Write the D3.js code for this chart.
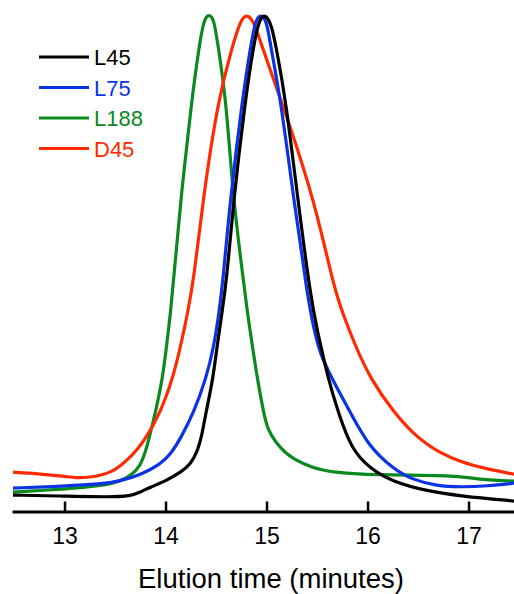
<!DOCTYPE html>
<html>
<head>
<meta charset="utf-8">
<script src="https://cdn.jsdelivr.net/npm/d3@7"></script>
<style>
  body { margin: 0; background: #fff; }
  svg { display: block; font-family: 'Liberation Sans', Arial, sans-serif; }
</style>
</head>
<body>
<svg width="514" height="594"></svg>
<script>
// elution time (min), normalised absorbance (% of peak)
const l45 = [
  [12.49, 3.4], [13.0, 3.2], [13.46, 3.0], [13.65, 3.2], [13.75, 4.0], [13.85, 5.0],
  [14.0, 6.2], [14.15, 8.0], [14.25, 9.6], [14.32, 12.4], [14.36, 15.4], [14.4, 20.0],
  [14.47, 26.7], [14.51, 33.3], [14.56, 40.1], [14.61, 47.5], [14.67, 62.0], [14.79, 82.8],
  [14.87, 93.5], [14.93, 99.2], [14.99, 100], [15.05, 97.8], [15.1, 92.8], [15.19, 82.8],
  [15.31, 62.7], [15.44, 42.7], [15.5, 36.7], [15.61, 26.7], [15.71, 20.0], [15.84, 12.6],
  [16.03, 8.6], [16.26, 6.0], [16.59, 4.2], [16.92, 3.2], [17.45, 2.2]
]
const l75 = [
  [12.49, 4.8], [13.0, 5.2], [13.36, 5.6], [13.55, 6.2], [13.75, 7.4], [13.95, 9.6],
  [14.05, 11.6], [14.15, 14.8], [14.28, 20.0], [14.4, 26.7], [14.48, 33.3], [14.53, 40.1],
  [14.57, 46.7], [14.64, 62.7], [14.76, 82.8], [14.84, 93.2], [14.89, 98.8], [14.94, 100],
  [15.0, 98.8], [15.04, 93.6], [15.14, 82.8], [15.27, 62.7], [15.41, 42.7], [15.47, 36.7],
  [15.53, 31.7], [15.65, 26.7], [15.83, 20.0], [16.01, 13.2], [16.26, 8.6], [16.43, 6.6],
  [16.69, 5.2], [16.92, 5.0], [17.19, 5.2], [17.45, 5.8]
]
const l188 = [
  [12.49, 4.0], [13.0, 4.6], [13.36, 5.2], [13.55, 6.2], [13.65, 7.2], [13.75, 9.2],
  [13.8, 12.0], [13.84, 15.0], [13.9, 20.0], [13.97, 26.7], [14.01, 33.3], [14.05, 40.1],
  [14.08, 46.7], [14.15, 62.7], [14.26, 82.8], [14.33, 93.2], [14.38, 99.0], [14.43, 100],
  [14.48, 99.0], [14.52, 93.6], [14.6, 82.8], [14.67, 62.7], [14.77, 46.7], [14.81, 40.1],
  [14.86, 33.3], [14.91, 26.7], [14.97, 20.0], [15.01, 16.6], [15.09, 14.0], [15.18, 12.0],
  [15.27, 10.6], [15.44, 9.0], [15.63, 8.0], [16.06, 7.4], [16.89, 7.4], [17.05, 6.6],
  [17.45, 6.2]
]
const d45 = [
  [12.49, 8.0], [12.66, 7.8], [12.76, 7.6], [13.0, 7.2], [13.11, 6.8], [13.26, 7.0],
  [13.36, 7.4], [13.46, 8.0], [13.55, 9.2], [13.65, 11.0], [13.72, 12.6], [13.8, 14.6],
  [13.95, 20.0], [14.07, 26.7], [14.15, 33.3], [14.22, 40.1], [14.28, 46.7], [14.37, 62.7],
  [14.52, 82.8], [14.66, 93.4], [14.74, 98.6], [14.8, 100], [14.87, 98.8], [14.96, 93.2],
  [15.14, 82.8], [15.21, 78.8], [15.47, 62.7], [15.65, 46.7], [15.71, 42.7], [15.75, 40.1],
  [15.88, 33.3], [16.03, 26.7], [16.26, 20.0], [16.46, 15.6], [16.59, 13.6], [16.69, 12.2],
  [16.92, 10.0], [17.19, 8.6], [17.45, 7.6]
]
const names = ['L45', 'L75', 'L188', 'D45']
const colors = ['#000000', '#0a32e6', '#0a8a1e', '#ff2a00']
const series = [l45, l75, l188, d45]
const xTicks = [13, 14, 15, 16, 17]

const svg = d3.select('svg')

const x = d3.scaleLinear().domain([12.48, 17.45]).range([12, 514])
const y = d3.scaleLinear().domain([0, 100]).range([512, 14])

const line = d3.line()
  .x((d) => x(d[0]))
  .y((d) => y(d[1]))
  .curve(d3.curveBasis)

// draw order: green behind, then red, blue, black on top
const order = [2, 3, 1, 0]
svg.append('g')
  .selectAll('path')
  .data(order)
  .enter()
  .append('path')
  .attr('d', (i) => line(series[i]))
  .attr('fill', 'none')
  .attr('stroke', (i) => colors[i])
  .attr('stroke-width', 3.2)
  .attr('stroke-linejoin', 'round')

// x axis, ticks pointing up
const axis = svg.append('g')
  .attr('transform', 'translate(0,511.5)')
  .call(
    d3.axisBottom(x)
      .tickValues(xTicks)
      .tickFormat(d3.format('d'))
      .tickSizeInner(-10)
      .tickSizeOuter(0)
      .tickPadding(16),
  )
axis.select('.domain').attr('stroke-width', 3)
axis.selectAll('.tick line').attr('stroke-width', 2.5)
axis.selectAll('.tick text')
  .attr('font-size', '23px')
  .attr('font-family', "'Liberation Sans', Arial, sans-serif")
  .attr('fill', '#000')

svg.append('text')
  .attr('x', 271)
  .attr('y', 588)
  .attr('text-anchor', 'middle')
  .attr('font-size', '27.5px')
  .text('Elution time (minutes)')

// legend
const legend = svg.append('g')
  .selectAll('g')
  .data(names)
  .enter()
  .append('g')
  .attr('transform', (d, i) => `translate(39,${57 + i * 30.5})`)
legend.append('line')
  .attr('x1', 0)
  .attr('x2', 50)
  .attr('stroke', (d, i) => colors[i])
  .attr('stroke-width', 3.2)
legend.append('text')
  .attr('x', 55)
  .attr('y', 8)
  .attr('font-size', '22px')
  .attr('fill', (d, i) => colors[i])
  .text((d) => d)
</script>
</body>
</html>
